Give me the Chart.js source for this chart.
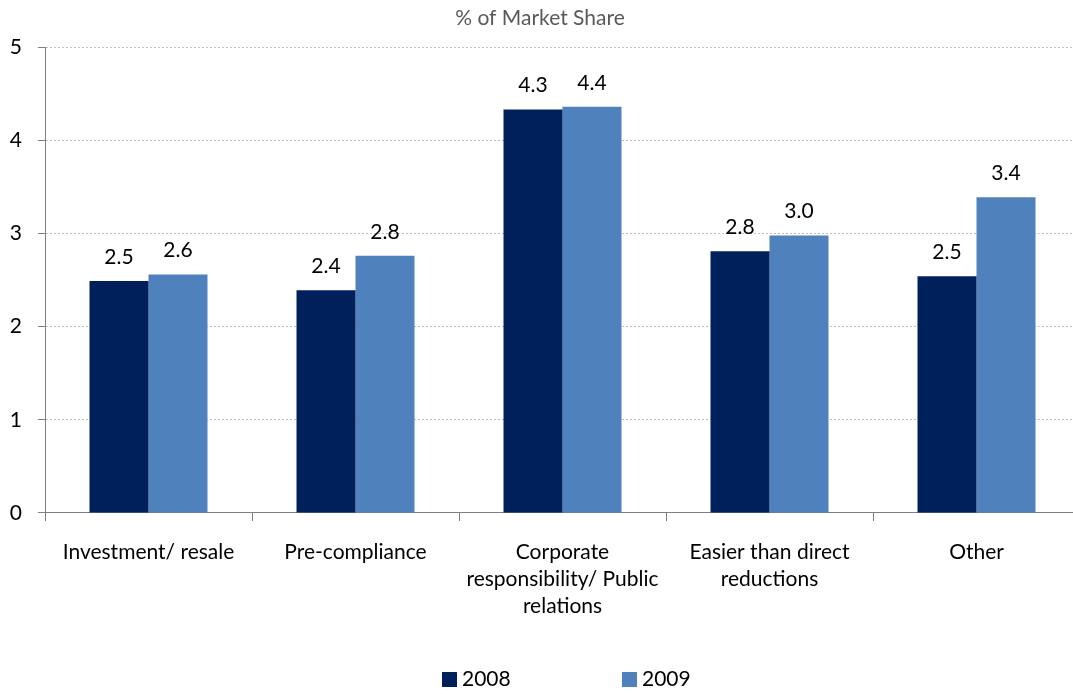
<!DOCTYPE html>
<html>
<head>
<meta charset="utf-8">
<script src="https://cdn.jsdelivr.net/npm/chart.js"></script>
<style>
body{
	margin: 0;
	background: #fff;
	overflow: hidden;
}
#wrap{
	position: relative;
	width: 1080px;
	height: 694px;
}
#legend{
	position: absolute;
	top: 665px;
	left: 0;
	width: 1073px;
	font-family: Lato, sans-serif;
	font-size: 21px;
	color: #000;
}
.leg{
	position: absolute;
	top: 0;
	white-space: nowrap;
}
.leg span{
	display: inline-block;
	width: 15px;
	height: 15px;
	margin-right: 5px;
	vertical-align: -1px;
}
</style>
</head>
<body>
<div id="wrap">
	<canvas id="barChart" width="1080" height="694"></canvas>
	<div id="legend"></div>
</div>

<script>
    var categories = [
        "Investment/ resale",
        "Pre-compliance",
        ["Corporate", "responsibility/ Public", "relations"],
        ["Easier than direct", "reductions"],
        "Other"
    ];
    var seriesNames = ["2008", "2009"];
    var values2008 = [2.49, 2.39, 4.33, 2.81, 2.54];
    var values2009 = [2.56, 2.76, 4.36, 2.98, 3.39];
    var labels2008 = ["2.5", "2.4", "4.3", "2.8", "2.5"];
    var labels2009 = ["2.6", "2.8", "4.4", "3.0", "3.4"];
    var yTicks = [0, 1, 2, 3, 4, 5];

    var colors = ["#00205c", "#4f81bd"];
    var FONT = "Lato, sans-serif";

    // value labels drawn above each bar
    var valueLabels = {
        id: "valueLabels",
        afterDatasetsDraw: function(chart) {
            var ctx = chart.ctx;
            var texts = [labels2008, labels2009];
            ctx.save();
            ctx.font = "21px " + FONT;
            ctx.fillStyle = "#000";
            ctx.textAlign = "center";
            ctx.textBaseline = "middle";
            chart.data.datasets.forEach(function(ds, i) {
                chart.getDatasetMeta(i).data.forEach(function(bar, j) {
                    ctx.fillText(texts[i][j], bar.x, bar.y - 24);
                });
            });
            ctx.restore();
        }
    };

    var chart = new Chart(document.getElementById("barChart"), {
        type: "bar",
        data: {
            labels: categories,
            datasets: [
                {
                    label: seriesNames[0],
                    data: values2008,
                    backgroundColor: colors[0],
                    borderWidth: 0
                },
                {
                    label: seriesNames[1],
                    data: values2009,
                    backgroundColor: colors[1],
                    borderWidth: 0
                }
            ]
        },
        options: {
            responsive: false,
            animation: false,
            events: [],
            layout: {
                padding: {top: 0, left: 0, right: 0, bottom: 56}
            },
            datasets: {
                bar: {
                    categoryPercentage: 0.57,
                    barPercentage: 1.0
                }
            },
            plugins: {
                legend: {display: false},
                tooltip: {enabled: false},
                title: {
                    display: true,
                    text: "% of Market Share",
                    color: "#595959",
                    font: {family: FONT, size: 21, weight: "normal"},
                    padding: {top: 6, bottom: 16}
                }
            },
            scales: {
                x: {
                    grid: {
                        display: true,
                        drawOnChartArea: false,
                        drawTicks: true,
                        tickLength: 8,
                        tickColor: "#7f7f7f",
                        offset: true
                    },
                    border: {display: true, color: "#7f7f7f", width: 1},
                    ticks: {
                        color: "#000",
                        font: {family: FONT, size: 21, lineHeight: 1.286},
                        padding: 18,
                        maxRotation: 0,
                        autoSkip: false
                    }
                },
                y: {
                    min: 0,
                    max: 5,
                    afterBuildTicks: function(scale) {
                        scale.ticks = yTicks.map(function(v) { return {value: v}; });
                    },
                    afterFit: function(scale) {
                        scale.width = 45;
                    },
                    grid: {
                        color: "#c0c0c0",
                        lineWidth: 1,
                        drawTicks: true,
                        tickLength: 7,
                        tickColor: "#7f7f7f"
                    },
                    border: {display: true, color: "#7f7f7f", width: 1, dash: [2, 2]},
                    ticks: {
                        color: "#000",
                        font: {family: FONT, size: 21},
                        padding: 16
                    }
                }
            }
        },
        plugins: [valueLabels]
    });

    // legend laid out like the original, wide spacing between items
    var legendX = [442, 622];
    var legend = document.getElementById("legend");
    seriesNames.forEach(function(name, i) {
        var item = document.createElement("div");
        item.className = "leg";
        item.style.left = legendX[i] + "px";
        item.innerHTML = '<span style="background:' + colors[i] + '"></span>' + name;
        legend.appendChild(item);
    });
</script>
</body>
</html>
